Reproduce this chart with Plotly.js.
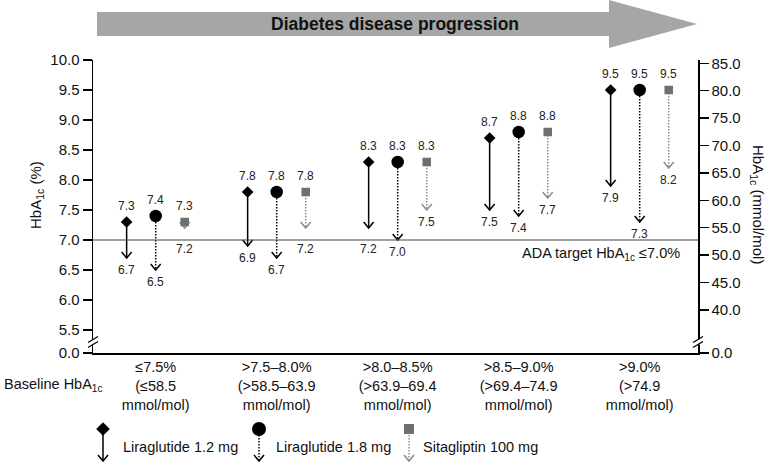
<!DOCTYPE html>
<html>
<head>
<meta charset="utf-8">
<script src="https://cdn.plot.ly/plotly-3.0.1.min.js"></script>
<style>
  html, body { margin: 0; padding: 0; background: #fff; }
  #chart { width: 766px; height: 464px; }
</style>
</head>
<body>
<div id="chart"></div>
<script>
// baseline HbA1c groups (x axis)
const categories = [
  '≤7.5%<br>(≤58.5<br>mmol/mol)',
  '>7.5–8.0%<br>(>58.5–63.9<br>mmol/mol)',
  '>8.0–8.5%<br>(>63.9–69.4<br>mmol/mol)',
  '>8.5–9.0%<br>(>69.4–74.9<br>mmol/mol)',
  '>9.0%<br>(>74.9<br>mmol/mol)'
];

const seriesNames = ['Liraglutide 1.2 mg', 'Liraglutide 1.8 mg', 'Sitagliptin 100 mg'];

// HbA1c (%) at baseline and at end of treatment
const lira12Start = [7.3, 7.8, 8.3, 8.7, 9.5];
const lira12End   = [6.7, 6.9, 7.2, 7.5, 7.9];
const lira18Start = [7.4, 7.8, 8.3, 8.8, 9.5];
const lira18End   = [6.5, 6.7, 7.0, 7.4, 7.3];
const sitaStart   = [7.3, 7.8, 8.3, 8.8, 9.5];
const sitaEnd     = [7.2, 7.2, 7.5, 7.7, 8.2];

const adaTarget = 7.0;

const leftTicks = [5.5, 6.0, 6.5, 7.0, 7.5, 8.0, 8.5, 9.0, 9.5, 10.0];
const rightTicks = [40, 45, 50, 55, 60, 65, 70, 75, 80, 85];

// ---- layout geometry (pixels) ----
const W = 766, H = 464;
const L = 93, R = 698, T = 60, B = 353;
const yMin = 5.117, yMax = 10.0;          // left axis, bottom is the broken "0.0"
const rMin = 32.15, rMax = 85.6;          // right axis, mmol/mol
const xMin = -0.518, xMax = 4.482;
const pxPerY = (B - T) / (yMax - yMin);
const pxPerX = (R - L) / (xMax - xMin);

const paperX = x => (x - L) / (R - L);
const paperY = y => (H - y) / (H - T);
const yToPx = v => T + (yMax - v) * pxPerY;

const series = [
  {name: seriesNames[0], start: lira12Start, end: lira12End, symbol: 'diamond', size: 9,
   color: '#000', lineColor: '#000', dash: 'solid', offset: -0.24},
  {name: seriesNames[1], start: lira18Start, end: lira18End, symbol: 'circle', size: 12.5,
   color: '#000', lineColor: '#000', dash: '1.5px,1.5px', offset: 0},
  {name: seriesNames[2], start: sitaStart, end: sitaEnd, symbol: 'square', size: 8.5,
   color: '#6f6f6f', lineColor: '#8c8c8c', dash: '1.5px,1.5px', offset: 0.24}
];

const headDx = 5 / pxPerX, headDy = 6 / pxPerY;
const traces = [];
const annotations = [];
const FAM = 'Liberation Sans, Arial, sans-serif';
const valFont = {family: FAM, size: 12, color: '#222'};

series.forEach(s => {
  const xs = categories.map((c, i) => i + s.offset);
  let sx = [], sy = [], hx = [], hy = [];
  xs.forEach((x, i) => {
    sx.push(x, x, null); sy.push(s.start[i], s.end[i], null);
    hx.push(x - headDx, x, x + headDx, null);
    hy.push(s.end[i] + headDy, s.end[i], s.end[i] + headDy, null);

    annotations.push({x: x, y: s.start[i], xref: 'x', yref: 'y', text: s.start[i].toFixed(1),
      showarrow: false, xanchor: 'center', yanchor: 'middle', yshift: 16, font: valFont});
    // keep end labels clear of the target line
    const tip = yToPx(s.end[i]);
    let lab = tip + 12;
    const line = yToPx(adaTarget);
    if (lab > line - 5 && lab < line + 7) lab = line + 9;
    annotations.push({x: x, y: s.end[i], xref: 'x', yref: 'y', text: s.end[i].toFixed(1),
      showarrow: false, xanchor: 'center', yanchor: 'middle', yshift: -(lab - tip), font: valFont});
  });
  traces.push({x: sx, y: sy, mode: 'lines', hoverinfo: 'skip', showlegend: false,
    line: {color: s.lineColor, width: 1.5, dash: s.dash}});
  traces.push({x: hx, y: hy, mode: 'lines', hoverinfo: 'skip', showlegend: false,
    line: {color: s.lineColor, width: 1.5}});
});
series.forEach(s => {
  traces.push({x: categories.map((c, i) => i + s.offset), y: s.start, mode: 'markers',
    name: s.name, showlegend: false, cliponaxis: false,
    marker: {symbol: s.symbol, size: s.size, color: s.color}});
});

// dummy trace so the right axis is drawn
traces.push({x: [0], y: [50], yaxis: 'y3', mode: 'markers', marker: {opacity: 0},
  showlegend: false, hoverinfo: 'skip'});

// ---- legend drawn on its own pixel axes under the plot ----
const legX = [103, 259, 409];
const legTextX = [121, 274, 421];
const legMarkY = 429, legTipY = 461, legTextY = 447;
series.forEach((s, k) => {
  const x = legX[k];
  traces.push({x: [x, x], y: [legMarkY, legTipY], xaxis: 'x2', yaxis: 'y2', mode: 'lines',
    line: {color: s.lineColor, width: 1.5, dash: s.dash}, showlegend: false, hoverinfo: 'skip'});
  traces.push({x: [x - 5, x, x + 5], y: [legTipY - 6, legTipY, legTipY - 6], xaxis: 'x2', yaxis: 'y2',
    mode: 'lines', line: {color: s.lineColor, width: 1.5}, showlegend: false, hoverinfo: 'skip'});
  traces.push({x: [x], y: [legMarkY], xaxis: 'x2', yaxis: 'y2', mode: 'markers', cliponaxis: false,
    marker: {symbol: s.symbol, size: s.size + 1.5, color: s.color}, showlegend: false, hoverinfo: 'skip'});
  annotations.push({x: legTextX[k], y: legTextY, xref: 'x2', yref: 'y2', text: s.name,
    showarrow: false, xanchor: 'left', yanchor: 'middle',
    font: {family: FAM, size: 14.5, color: '#111'}});
});

const txtFont = {family: FAM, size: 14.5, color: '#111'};
const titleFont = {family: FAM, size: 15, color: '#111'};

annotations.push(
  {x: paperX(682), y: adaTarget, xref: 'paper', yref: 'y', yshift: -14, xanchor: 'right',
   yanchor: 'middle', showarrow: false, text: 'ADA target HbA<sub>1c</sub> ≤7.0%', font: txtFont},
  {x: paperX(2), y: paperY(385), xref: 'paper', yref: 'paper', xanchor: 'left', yanchor: 'middle',
   showarrow: false, text: 'Baseline HbA<sub>1c</sub>', font: txtFont},
  {x: paperX(37), y: paperY(195), xref: 'paper', yref: 'paper', xanchor: 'center', yanchor: 'middle',
   textangle: -90, showarrow: false, text: 'HbA<sub>1c</sub> (%)', font: titleFont},
  {x: paperX(758), y: paperY(205), xref: 'paper', yref: 'paper', xanchor: 'center', yanchor: 'middle',
   textangle: 90, showarrow: false, text: 'HbA<sub>1c</sub> (mmol/mol)', font: titleFont},
  {x: paperX(395), y: paperY(24), xref: 'paper', yref: 'paper', xanchor: 'center', yanchor: 'middle',
   showarrow: false, text: '<b>Diabetes disease progression</b>',
   font: {family: FAM, size: 17.5, color: '#111'}}
);

// progression arrow + axis breaks
const arrowPts = [[97, 12], [609, 12], [609, 0], [697, 24], [609, 48], [609, 36], [97, 36]];
const arrowPath = 'M' + arrowPts.map(p => paperX(p[0]) + ',' + paperY(p[1])).join('L') + 'Z';

function breakShapes(cx, cy) {
  const out = [{type: 'rect', xref: 'paper', yref: 'paper', x0: paperX(cx - 3), x1: paperX(cx + 3),
    y0: paperY(cy + 2.5), y1: paperY(cy - 2.5), fillcolor: '#fff', line: {width: 0}}];
  [-2.5, 2.5].forEach(d => out.push({type: 'line', xref: 'paper', yref: 'paper',
    x0: paperX(cx - 5), y0: paperY(cy + d + 3), x1: paperX(cx + 5), y1: paperY(cy + d - 3),
    line: {color: '#000', width: 1.3}}));
  return out;
}

const shapes = [
  {type: 'path', xref: 'paper', yref: 'paper', path: arrowPath, fillcolor: '#a6a6a6', line: {width: 0}},
  {type: 'line', xref: 'paper', yref: 'y', x0: 0, x1: 1, y0: adaTarget, y1: adaTarget,
   line: {color: '#444', width: 1.2}},
  ...breakShapes(L, 342),
  ...breakShapes(R, 342)
];

const axFont = {family: FAM, size: 15, color: '#111'};

const layout = {
  width: W, height: H,
  margin: {l: L, r: W - R, t: T, b: 0},
  paper_bgcolor: '#fff', plot_bgcolor: '#fff',
  showlegend: false,
  xaxis: {
    range: [xMin, xMax], domain: [0, 1], anchor: 'y',
    tickvals: categories.map((c, i) => i), ticktext: categories,
    showline: true, linecolor: '#000', linewidth: 1.5, ticks: '',
    showgrid: false, zeroline: false, tickfont: txtFont
  },
  yaxis: {
    range: [yMin, yMax], domain: [paperY(B), 1], anchor: 'x',
    tickvals: [yMin].concat(leftTicks), ticktext: ['0.0'].concat(leftTicks.map(v => v.toFixed(1))),
    showline: true, linecolor: '#000', linewidth: 1.5, ticks: 'outside', ticklen: 9,
    tickwidth: 1.5, tickcolor: '#000', showgrid: false, zeroline: false, tickfont: axFont
  },
  yaxis3: {
    range: [rMin, rMax], overlaying: 'y', side: 'right', anchor: 'x',
    tickvals: [rMin].concat(rightTicks), ticktext: ['0.0'].concat(rightTicks.map(v => v.toFixed(1))),
    showline: true, linecolor: '#000', linewidth: 1.5, ticks: 'outside', ticklen: 9,
    tickwidth: 1.5, tickcolor: '#000', showgrid: false, zeroline: false, tickfont: axFont
  },
  xaxis2: {range: [L, R], domain: [0, 1], anchor: 'y2', visible: false, fixedrange: true},
  yaxis2: {range: [H, B], domain: [0, paperY(B)], anchor: 'x2', visible: false, fixedrange: true},
  shapes: shapes,
  annotations: annotations
};

Plotly.newPlot('chart', traces, layout, {staticPlot: true});
</script>
</body>
</html>
